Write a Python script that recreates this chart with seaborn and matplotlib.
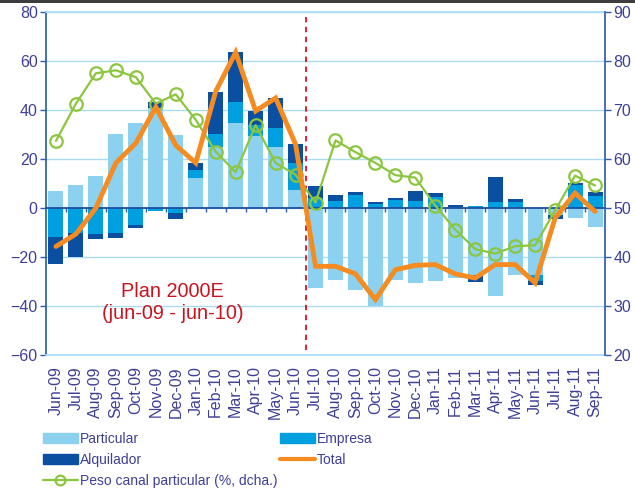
import numpy as np
import pandas as pd
import seaborn as sns
import matplotlib.pyplot as plt
from matplotlib.patches import Patch, Rectangle
from matplotlib.lines import Line2D

months = ['Jun-09', 'Jul-09', 'Aug-09', 'Sep-09', 'Oct-09', 'Nov-09', 'Dec-09',
          'Jan-10', 'Feb-10', 'Mar-10', 'Apr-10', 'May-10', 'Jun-10', 'Jul-10',
          'Aug-10', 'Sep-10', 'Oct-10', 'Nov-10', 'Dec-10', 'Jan-11', 'Feb-11',
          'Mar-11', 'Apr-11', 'May-11', 'Jun-11', 'Jul-11', 'Aug-11', 'Sep-11']
particular = [7.1, 9.4, 12.9, 30.4, 34.8, 40.7, 29.9, 12.1, 24.7, 34.8, 29.5, 25.0, 7.3, -32.7,
              -29.3, -33.6, -39.9, -29.3, -30.6, -29.6, -28.6, -27.2, -35.8, -27.2, -27.2, -3.0, -4.1, -7.8]
empresa = [-11.8, -10.0, -10.6, -10.4, -6.8, -1.1, -2.2, 3.5, 5.5, 8.6, 4.5, 7.5, 11.1, 4.1,
           3.0, 5.4, 1.5, 3.1, 3.0, 4.5, 0.3, 0.7, 2.3, 2.3, -2.5, 0.0, 9.2, 5.1]
alquilador = [-11.1, -10.1, -2.2, -2.0, -1.5, 2.4, -2.4, 2.8, 17.0, 20.1, 5.6, 12.2, 7.6, 4.7,
              2.4, 1.1, 1.1, 0.8, 3.9, 1.7, 1.0, -2.8, 10.4, 1.5, -1.9, -1.4, 1.0, 1.4]
total = [-15.7, -10.6, 0.0, 18.4, 26.5, 41.2, 25.6, 18.4, 47.6, 63.5, 39.6, 44.9, 26.0, -23.8,
         -23.8, -26.9, -37.4, -25.2, -23.4, -23.1, -26.9, -28.6, -23.1, -23.1, -30.6, -4.1, 6.1, -1.4]
peso = [63.7, 71.3, 77.5, 78.1, 76.7, 71.3, 73.2, 68.0, 61.5, 57.3, 66.9, 59.2, 56.8, 51.1,
        63.8, 61.4, 59.2, 56.7, 56.2, 50.5, 45.6, 41.6, 40.7, 42.2, 42.4, 49.5, 56.6, 54.6]

C_PART = '#8dd1f0'
C_EMP = '#009fe0'
C_ALQ = '#0b4fa1'
C_TOT = '#f68b1f'
C_PESO = '#8cc63e'
C_TXT = '#3f3f98'
C_GRID = '#abdcf2'
C_AX = '#2f5fab'

sns.set_theme(style='white')
plt.rcParams['font.family'] = ['Liberation Sans', 'DejaVu Sans']

df = pd.DataFrame({'mes': months, 'part': particular, 'emp': empresa, 'alq': alquilador})

fig = plt.figure(figsize=(6.35, 4.92), dpi=100)
ax = fig.add_axes([46 / 635, 1 - 355 / 492, 559 / 635, 343 / 492])

# apilado: positivos y negativos por separado, dibujando acumulados de mayor a menor
for sign in (1, -1):
    p = (df['part'] * sign).clip(lower=0) * sign
    e = (df['emp'] * sign).clip(lower=0) * sign
    a = (df['alq'] * sign).clip(lower=0) * sign
    for vals, col in ((p + e + a, C_ALQ), (p + e, C_EMP), (p, C_PART)):
        sns.barplot(x=df['mes'], y=vals, color=col, saturation=1, width=0.75,
                    linewidth=0, ax=ax, zorder=2)

ax.set_xlim(-0.5, len(months) - 0.5)
ax.set_ylim(-60, 80)
ax.set_yticks(np.arange(-60, 81, 20))
ax.set_xlabel('')
ax.set_ylabel('')
ax.grid(axis='y', color=C_GRID, lw=1, zorder=0)
ax.set_axisbelow(True)
for s in ('top', 'bottom'):
    ax.spines[s].set_color(C_GRID)
ax.spines['right'].set_visible(False)
ax.spines['left'].set_color(C_AX)
ax.tick_params(axis='y', left=True, length=4, width=1, color=C_AX, labelcolor=C_TXT,
               labelsize=11.5, pad=2)
ax.tick_params(axis='x', bottom=False, length=0, labelcolor=C_TXT, labelsize=11.5,
               labelrotation=90, pad=8)

# eje en cero con marcas entre barras
sec = ax.secondary_xaxis(60 / 140)
sec.set_xticks(np.arange(0.5, len(months) - 1, 1))
sec.tick_params(axis='x', length=3, width=1, color=C_AX, labelbottom=False, direction='out')
sec.spines['bottom'].set_color('#1d4f9f')
sec.spines['bottom'].set_linewidth(1.3)
sec.set_zorder(3)

ax.axvline(12.5, color='#d9121f', lw=1.3, ls=(0, (3, 2.5)), ymin=0.015, ymax=0.985, zorder=4)
ax.text(5.85, -38.5, 'Plan 2000E\n(jun-09 - jun-10)', color='#c8141e', fontsize=14.3,
        ha='center', va='center', linespacing=1.2)

xpos = np.arange(len(months))

ax2 = ax.twinx()
sns.lineplot(x=xpos, y=peso, ax=ax2, color=C_PESO, lw=1.6, marker='o', markersize=9,
             markerfacecolor='none', markeredgecolor=C_PESO, markeredgewidth=1.6)
ax2.set_ylim(20, 90)
ax2.set_yticks(np.arange(20, 91, 10))
for s in ('top', 'bottom', 'left'):
    ax2.spines[s].set_visible(False)
ax2.spines['right'].set_color(C_AX)
ax2.tick_params(axis='y', right=True, length=4, width=1, color=C_AX, labelcolor=C_TXT,
                labelsize=11.5, pad=2)
ax2.grid(False)

ax3 = ax.twinx()
sns.lineplot(x=xpos, y=total, ax=ax3, color=C_TOT, lw=3.5, solid_joinstyle='miter')
ax3.set_ylim(-60, 80)
ax3.set_xlim(-0.5, len(months) - 0.5)
ax3.axis('off')

handles = [Patch(color=C_PART), Patch(color=C_ALQ),
           Line2D([], [], color=C_PESO, lw=1.6, marker='o', markersize=7,
                  markerfacecolor='none', markeredgewidth=1.6),
           Patch(color=C_EMP), Line2D([], [], color=C_TOT, lw=3)]
labels = ['Particular', 'Alquilador', 'Peso canal particular (%, dcha.)', 'Empresa', 'Total']
fig.legend(handles, labels, ncol=2, loc='upper left', bbox_to_anchor=(43 / 635, 1 - 432 / 492),
           frameon=False, fontsize=10, labelcolor=C_TXT, handlelength=2.5, handleheight=0.8,
           handletextpad=0.15, labelspacing=0.5, columnspacing=0.2, borderpad=0,
           borderaxespad=0)

fig.add_artist(Rectangle((0, 1 - 3 / 492), 1, 3 / 492, transform=fig.transFigure,
                         color='#3d3d3d', lw=0))

fig.savefig('out.png', dpi=100)
